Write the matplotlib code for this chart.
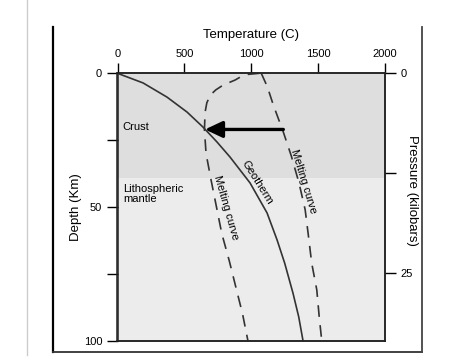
import numpy as np
import matplotlib
matplotlib.use("Agg")
from matplotlib import pyplot as plt
from matplotlib.lines import Line2D

plt.rcParams['font.family'] = ['Liberation Sans', 'DejaVu Sans']

# layers (depth in km)
layer_names = ['Crust', 'Lithospheric\nmantle']
layer_top = [0, 39]
layer_bottom = [39, 100]
layer_colors = ['#dedede', '#ececec']

# geotherm (depth km, temperature C)
geo_depth = [0, 3.6, 8.9, 14.5, 20.1, 25.7, 31.3, 41.0, 52.2, 62.3, 71.0, 82.2, 91.1, 100]
geo_temp = [0, 191, 370, 520, 639, 744, 841, 991, 1118, 1193, 1250, 1312, 1355, 1387]

# wet melting curve
wet_depth = [0, 0.4, 1.2, 2.5, 4.4, 6.2, 8.1, 11, 14.5, 21, 30, 40, 50, 60, 70, 80, 90, 100]
wet_temp = [1060, 976, 925, 880, 790, 735, 695, 668, 655, 650, 662, 700, 740, 780, 835, 885, 935, 975]

# dry melting curve
dry_depth = [0, 5, 12, 22, 31, 41, 51, 61, 71, 81, 91, 100]
dry_temp = [1075, 1120, 1166, 1240, 1300, 1357, 1403, 1428, 1452, 1490, 1508, 1527]

# arrow at 21 km
arrow_depth = 21
arrow_from = 1240
arrow_to = 654

temp_ticks = [0, 500, 1000, 1500, 2000]
depth_ticks = [0, 25, 50, 75, 100]
depth_labels = ['0', '', '50', '', '100']
press_ticks = [0, 12.5, 25]
press_labels = ['0', '', '25']
press_max = 33.4

W, H = 474, 357
fig = plt.figure(figsize=(W / 100, H / 100), dpi=100)
ax = fig.add_axes([117.5 / W, 1 - 340.7 / H, (385 - 117.5) / W, (340.7 - 73.3) / H])

for top, bot, col in zip(layer_top, layer_bottom, layer_colors):
    ax.axhspan(top, bot, color=col, lw=0, zorder=0)

ax.plot(geo_temp, geo_depth, color='#333333', lw=1.2, zorder=3)
ax.plot(wet_temp, wet_depth, color='#333333', lw=1.2, ls=(0, (7, 5)), zorder=3)
ax.plot(dry_temp, dry_depth, color='#333333', lw=1.2, ls=(0, (7, 5)), zorder=3)

ax.annotate('', xy=(arrow_to, arrow_depth), xytext=(arrow_from, arrow_depth),
            arrowprops=dict(arrowstyle='-|>,head_length=0.7,head_width=0.33',
                            mutation_scale=15, lw=2.4, color='black',
                            shrinkA=0, shrinkB=0), zorder=4)

ax.set_xlim(0, 2000)
ax.set_ylim(100, 0)
ax.xaxis.tick_top()
ax.xaxis.set_label_position('top')
ax.set_xticks(temp_ticks)
ax.set_yticks(depth_ticks)
ax.set_yticklabels(depth_labels)
ax.tick_params(axis='x', direction='out', length=7, width=1, labelsize=8, pad=3)
ax.tick_params(axis='y', direction='out', length=8, width=1, labelsize=8, pad=3)
ax.set_xlabel('Temperature (C)', fontsize=9.5, labelpad=8.5)
ax.set_ylabel('Depth (Km)', fontsize=9.5, labelpad=1)
for s in ax.spines.values():
    s.set_linewidth(1.1)
    s.set_color('#222222')

ax2 = ax.twinx()
ax2.set_ylim(press_max, 0)
ax2.set_yticks(press_ticks)
ax2.set_yticklabels(press_labels)
ax2.tick_params(axis='y', direction='out', length=8, width=1, labelsize=8, pad=3)
for s in ax2.spines.values():
    s.set_linewidth(1.1)
    s.set_color('#222222')
fig.text(412 / W, 1 - 190 / H, 'Pressure (kilobars)', fontsize=9.5, rotation=-90,
         ha='center', va='center')

ax.text(40, 20, layer_names[0], fontsize=8, va='center', ha='left')
ax.text(40, 45, layer_names[1], fontsize=8, va='center', ha='left', linespacing=1.0)

ax.text(1043, 41, 'Geotherm', fontsize=8, rotation=-58, ha='center', va='center', rotation_mode='anchor')
ax.text(1394, 40.3, 'Melting curve', fontsize=8, rotation=-73, ha='center', va='center', rotation_mode='anchor')
ax.text(811, 50.2, 'Melting curve', fontsize=8, rotation=-74, ha='center', va='center', rotation_mode='anchor')

# frame lines around the figure
fig.add_artist(Line2D([27 / W, 27 / W], [1, 1 - 355 / H], color='#cccccc', lw=1))
fig.add_artist(Line2D([52.5 / W, 52.5 / W], [1 - 27 / H, 1 - 352 / H], color='black', lw=1.6))
fig.add_artist(Line2D([52.5 / W, 422 / W], [1 - 352 / H, 1 - 352 / H], color='#333333', lw=1.3))
fig.add_artist(Line2D([421.5 / W, 421.5 / W], [1 - 27 / H, 1 - 352 / H], color='#444444', lw=1.3))

fig.savefig('out.png', dpi=100)
